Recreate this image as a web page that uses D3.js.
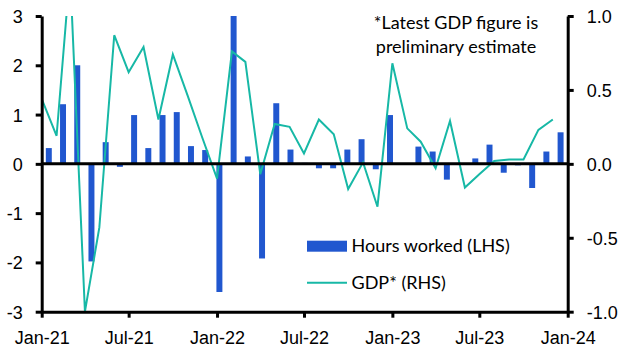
<!DOCTYPE html>
<html>
<head>
<meta charset="utf-8">
<script src="https://cdn.jsdelivr.net/npm/d3@7"></script>
<style>
  html, body { margin: 0; padding: 0; background: #fff; }
  svg { display: block; font-family: Lato, "Open Sans", sans-serif; }
</style>
</head>
<body>
<svg id="chart" width="632" height="362"></svg>
<script>
// ---- data ----
const barMonths = ["2021-01","2021-02","2021-03","2021-04","2021-05","2021-06","2021-07","2021-08","2021-09","2021-10","2021-11","2021-12",
  "2022-01","2022-02","2022-03","2022-04","2022-05","2022-06","2022-07","2022-08","2022-09","2022-10","2022-11","2022-12",
  "2023-01","2023-02","2023-03","2023-04","2023-05","2023-06","2023-07","2023-08","2023-09","2023-10","2023-11","2023-12","2024-01"];
const hoursWorked = [0.32,1.21,2.0,-1.98,0.44,-0.06,0.99,0.32,0.99,1.05,0.36,0.28,
  -2.6,3.0,0.15,-1.92,1.23,0.29,0.02,-0.09,-0.09,0.29,0.5,-0.11,
  0.99,0.0,0.35,0.25,-0.32,0.0,0.11,0.39,-0.18,-0.03,-0.49,0.25,0.64];
const gdpMonths = barMonths.slice(0, 36);
const gdp = [0.44,0.19,1.3,-1.0,-0.43,0.87,0.62,0.79,0.30,0.74,0.46,0.18,
  -0.10,0.76,0.69,-0.07,0.27,0.25,0.07,0.30,0.20,-0.17,0.01,-0.29,
  0.68,0.24,0.15,-0.03,0.29,-0.16,-0.07,0.02,0.03,0.03,0.23,0.30];
const xTickMonths = ["2021-01","2021-07","2022-01","2022-07","2023-01","2023-07","2024-01"];
const xTickLabels = ["Jan-21","Jul-21","Jan-22","Jul-22","Jan-23","Jul-23","Jan-24"];
const leftTicks = [-3,-2,-1,0,1,2,3];
const rightTicks = [-1.0,-0.5,0.0,0.5,1.0];
const seriesNames = ["Hours worked (LHS)", "GDP* (RHS)"];
const noteLines = ["*Latest GDP figure is", "preliminary estimate"];

// ---- layout ----
const X0 = 41.7, X1 = 567.7, YT = 16, YB = 311.7;
const barColor = "#2157CF", lineColor = "#17B8A6";
const parse = d3.timeParse("%Y-%m");

const svg = d3.select("#chart");

const xBand = d3.scaleBand().domain(barMonths).range([X0, X1]).paddingInner(0.58).paddingOuter(0.29);
const xTime = d3.scaleTime().domain([parse("2021-01"), parse("2024-01")]).range([X0, X1]);
const yL = d3.scaleLinear().domain([-3, 3]).range([YB, YT]);
const yR = d3.scaleLinear().domain([-1, 1]).range([YB, YT]);

svg.append("defs").append("clipPath").attr("id", "plotclip")
  .append("rect").attr("x", X0).attr("y", YT).attr("width", X1 - X0).attr("height", YB - YT);

// bars
svg.append("g").selectAll("rect").data(barMonths).join("rect")
  .attr("x", d => xBand(d))
  .attr("width", xBand.bandwidth())
  .attr("y", (d, i) => yL(Math.max(0, hoursWorked[i])))
  .attr("height", (d, i) => Math.abs(yL(hoursWorked[i]) - yL(0)))
  .attr("fill", barColor);

// line
const line = d3.line().x(d => xTime(parse(d[0]))).y(d => yR(d[1]));
svg.append("path")
  .datum(gdpMonths.map((m, i) => [m, gdp[i]]))
  .attr("clip-path", "url(#plotclip)")
  .attr("d", line)
  .attr("fill", "none")
  .attr("stroke", lineColor)
  .attr("stroke-width", 2)
  .attr("stroke-linejoin", "miter");

// zero line
svg.append("line").attr("x1", X0).attr("x2", X1).attr("y1", yL(0)).attr("y2", yL(0))
  .attr("stroke", "#000").attr("stroke-width", 3);

// axes
function styleAxis(g) {
  g.select(".domain").attr("stroke", "#000").attr("stroke-width", 3);
  g.selectAll(".tick line").attr("stroke", "#000").attr("stroke-width", 3);
  g.selectAll(".tick text").attr("fill", "#000").attr("font-size", 18);
}

const axL = svg.append("g").attr("transform", `translate(${X0},0)`)
  .call(d3.axisLeft(yL).tickValues(leftTicks).tickSize(6).tickSizeOuter(0).tickPadding(13).tickFormat(d3.format("d")));
styleAxis(axL);
axL.selectAll(".tick text").attr("dy", "0.36em");

const axR = svg.append("g").attr("transform", `translate(${X1},0)`)
  .call(d3.axisRight(yR).tickValues(rightTicks).tickSize(6).tickSizeOuter(0).tickPadding(13).tickFormat(d3.format(".1f")));
styleAxis(axR);
axR.selectAll(".tick text").attr("dy", "0.36em").text(d => d3.format(".1f")(d).replace("−", "-"));

const axB = svg.append("g").attr("transform", `translate(0,${YB})`)
  .call(d3.axisBottom(xTime).tickValues(xTickMonths.map(parse)).tickSize(6).tickSizeOuter(0).tickPadding(14)
    .tickFormat((d, i) => xTickLabels[i]));
styleAxis(axB);
axL.selectAll(".tick text").text(d => String(d));

// legend
const lg = svg.append("g");
lg.append("rect").attr("x", 307).attr("y", 240.7).attr("width", 40).attr("height", 11).attr("fill", barColor);
lg.append("line").attr("x1", 307).attr("x2", 347).attr("y1", 282.7).attr("y2", 282.7)
  .attr("stroke", lineColor).attr("stroke-width", 2);
lg.append("text").attr("x", 351.5).attr("y", 252).attr("font-size", 18).attr("fill", "#000").text(seriesNames[0]);
lg.append("text").attr("x", 351.5).attr("y", 289).attr("font-size", 18).attr("fill", "#000").text(seriesNames[1]);

// note
svg.append("g").selectAll("text").data(noteLines).join("text")
  .attr("x", 456).attr("y", (d, i) => 29 + i * 24)
  .attr("text-anchor", "middle").attr("font-size", 18).attr("fill", "#000")
  .text(d => d);
</script>
</body>
</html>
